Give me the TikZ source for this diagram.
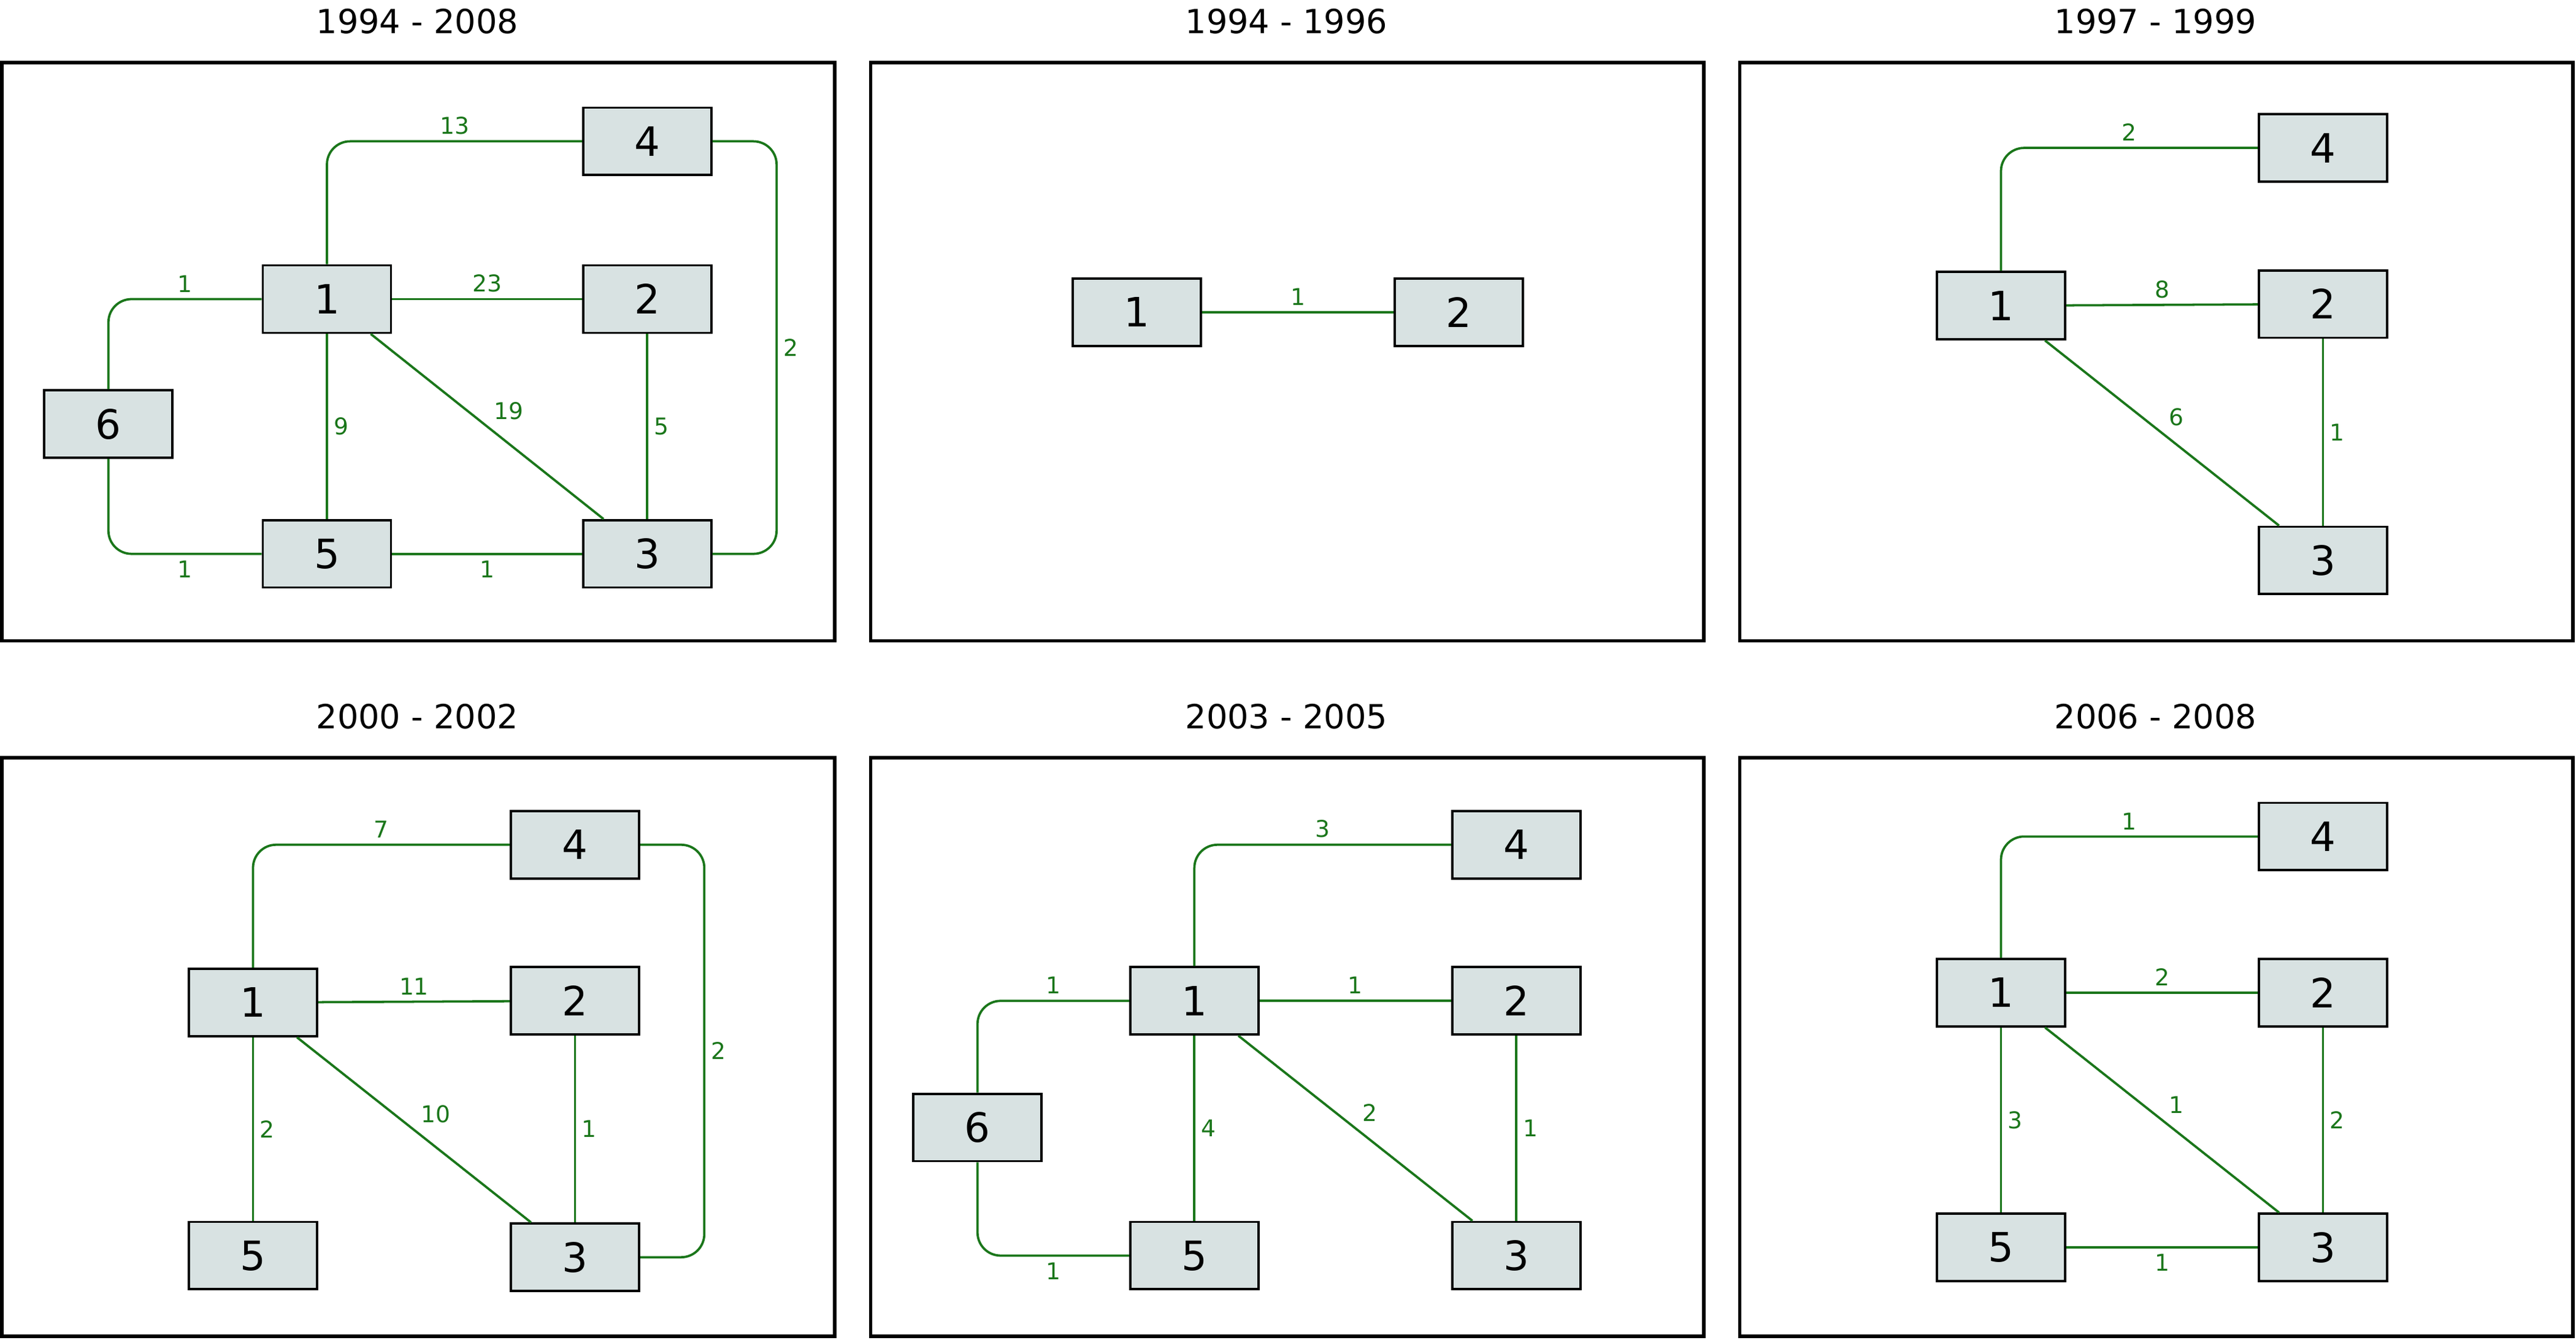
\documentclass[tikz,border=0pt]{standalone}
\usepackage{fontspec}
\setmainfont{DejaVu Sans}
\definecolor{boxfill}{HTML}{D8E2E2}
\definecolor{edgegreen}{HTML}{1A761A}
\tikzset{
  box/.style={draw=black, thick, fill=boxfill, minimum width=1.56cm, minimum height=0.82cm, font=\fontsize{14}{16}\selectfont},
  link/.style={edgegreen, thick, rounded corners=8pt},
  lbl/.style={font=\fontsize{8}{9}\selectfont, inner sep=2pt},
  frame/.style={draw=black, very thick},
  ttl/.style={font=\fontsize{11.5}{13}\selectfont}
}
\begin{document}
\begin{tikzpicture}[x=0.02cm,y=-0.02cm]
  \useasboundingbox (0,0) rectangle (1568,815);
  % frames and titles
  \foreach \fx/\fy/\t in {1/38/1994 - 2008, 530/38/1994 - 1996, 1059/38/1997 - 1999,
                          1/461/2000 - 2002, 530/461/2003 - 2005, 1059/461/2006 - 2008} {
    \draw[frame] (\fx,\fy) rectangle ++(507,352);
    \node[ttl] at (\fx+253,\fy-25) {\t};
  }
  % panel 1994 - 2008
  \foreach \n/\x/\y in {4/394/86, 1/199/182, 2/394/182, 6/66/258, 5/199/337, 3/394/337}
    \node[box] (a\n) at (\x,\y) {\n};
  \draw[link] (a1.north) |- node[lbl,pos=0.75,above] {13} (a4.west);
  \draw[link] (a4.east) -- ++(39,0) |- node[lbl,pos=0.25,right] {2} (a3.east);
  \draw[link] (a6.north) |- node[lbl,pos=0.75,above] {1} (a1.west);
  \draw[link] (a6.south) |- node[lbl,pos=0.75,below] {1} (a5.west);
  \draw[link] (a1) -- node[lbl,above] {23} (a2);
  \draw[link] (a1) -- node[lbl,right] {9} (a5);
  \draw[link] (a1) -- node[lbl,above right] {19} (a3);
  \draw[link] (a2) -- node[lbl,right] {5} (a3);
  \draw[link] (a5) -- node[lbl,below] {1} (a3);
  % panel 1994 - 1996
  \foreach \n/\x/\y in {1/692/190, 2/888/190}
    \node[box] (b\n) at (\x,\y) {\n};
  \draw[link] (b1) -- node[lbl,above] {1} (b2);
  % panel 1997 - 1999
  \foreach \n/\x/\y in {4/1414/90, 1/1218/186, 2/1414/185, 3/1414/341}
    \node[box] (c\n) at (\x,\y) {\n};
  \draw[link] (c1.north) |- node[lbl,pos=0.75,above] {2} (c4.west);
  \draw[link] (c1) -- node[lbl,above] {8} (c2);
  \draw[link] (c1) -- node[lbl,above right] {6} (c3);
  \draw[link] (c2) -- node[lbl,right] {1} (c3);
  % panel 2000 - 2002
  \foreach \n/\x/\y in {4/350/514, 1/154/610, 2/350/609, 5/154/764, 3/350/765}
    \node[box] (d\n) at (\x,\y) {\n};
  \draw[link] (d1.north) |- node[lbl,pos=0.75,above] {7} (d4.west);
  \draw[link] (d4.east) -- ++(39,0) |- node[lbl,pos=0.25,right] {2} (d3.east);
  \draw[link] (d1) -- node[lbl,above] {11} (d2);
  \draw[link] (d1) -- node[lbl,right] {2} (d5);
  \draw[link] (d1) -- node[lbl,above right] {10} (d3);
  \draw[link] (d2) -- node[lbl,right] {1} (d3);
  % panel 2003 - 2005
  \foreach \n/\x/\y in {4/923/514, 1/727/609, 2/923/609, 6/595/686, 5/727/764, 3/923/764}
    \node[box] (e\n) at (\x,\y) {\n};
  \draw[link] (e1.north) |- node[lbl,pos=0.75,above] {3} (e4.west);
  \draw[link] (e6.north) |- node[lbl,pos=0.75,above] {1} (e1.west);
  \draw[link] (e6.south) |- node[lbl,pos=0.75,below] {1} (e5.west);
  \draw[link] (e1) -- node[lbl,above] {1} (e2);
  \draw[link] (e1) -- node[lbl,right] {4} (e5);
  \draw[link] (e1) -- node[lbl,above right] {2} (e3);
  \draw[link] (e2) -- node[lbl,right] {1} (e3);
  % panel 2006 - 2008
  \foreach \n/\x/\y in {4/1414/509, 1/1218/604, 2/1414/604, 5/1218/759, 3/1414/759}
    \node[box] (f\n) at (\x,\y) {\n};
  \draw[link] (f1.north) |- node[lbl,pos=0.75,above] {1} (f4.west);
  \draw[link] (f1) -- node[lbl,above] {2} (f2);
  \draw[link] (f1) -- node[lbl,right] {3} (f5);
  \draw[link] (f1) -- node[lbl,above right] {1} (f3);
  \draw[link] (f2) -- node[lbl,right] {2} (f3);
  \draw[link] (f5) -- node[lbl,below] {1} (f3);
\end{tikzpicture}
\end{document}
